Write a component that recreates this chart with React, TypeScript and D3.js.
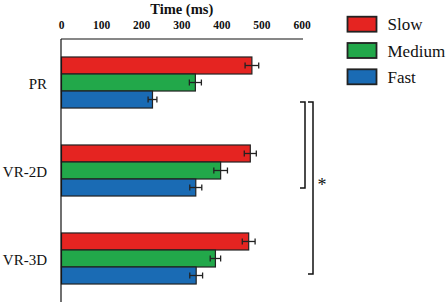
import React from "react";
import * as d3 from "d3";

const categories = ["PR", "VR-2D", "VR-3D"];
const seriesNames = ["Slow", "Medium", "Fast"];
const slowValues = [475, 471, 467];
const mediumValues = [334, 397, 384];
const fastValues = [227, 335, 336];
const slowErrors = [17, 15, 16];
const mediumErrors = [15, 17, 13];
const fastErrors = [11, 15, 16];
const xTicks = [0, 100, 200, 300, 400, 500, 600];
const colors = ["#e52421", "#22a84a", "#1a6bb4"];

const W = 447;
const H = 305;
const FONT = "Liberation Serif";
const tStyle: React.CSSProperties = { fontFamily: FONT };

export default function App() {
  const values = [slowValues, mediumValues, fastValues];
  const errors = [slowErrors, mediumErrors, fastErrors];

  const x = d3.scaleLinear().domain([0, 600]).range([61.5, 302]);
  const y0 = d3
    .scaleBand<string>()
    .domain(categories)
    .range([39, 302])
    .paddingInner(0.42)
    .paddingOuter(0.2045);
  const y1 = d3
    .scaleBand<string>()
    .domain(seriesNames)
    .range([0, y0.bandwidth()])
    .padding(0);

  const axisY = 39;
  const axisX = 61;

  return (
    <svg
      width={W}
      height={H}
      style={{ position: "absolute", left: 0, top: 0, background: "#fff" }}
    >
      <rect x={0} y={0} width={W} height={H} fill="#fff" />
      {/* title */}
      <text
        style={tStyle}
        x={(x(0) + x(600)) / 2}
        y={14}
        textAnchor="middle"
        fontSize={14.5}
        fontWeight="bold"
        fill="#111"
      >
        Time (ms)
      </text>
      {/* tick labels */}
      {xTicks.map((t) => (
        <text
          key={t}
          style={tStyle}
          x={x(t)}
          y={28.5}
          textAnchor="middle"
          fontSize={11.5}
          fontWeight="bold"
          fill="#111"
        >
          {t}
        </text>
      ))}
      {/* bars */}
      {categories.map((c, ci) => (
        <g key={c} transform={`translate(0,${y0(c)})`}>
          {seriesNames.map((s, si) => {
            const v = values[si][ci];
            const e = errors[si][ci];
            const by = y1(s)!;
            const bh = y1.bandwidth();
            const cy = by + bh / 2;
            return (
              <g key={s}>
                <rect
                  x={x(0)}
                  y={by}
                  width={x(v) - x(0)}
                  height={bh}
                  fill={colors[si]}
                  stroke="#222"
                  strokeWidth={1.2}
                />
                <line x1={x(v - e)} x2={x(v + e)} y1={cy} y2={cy} stroke="#222" strokeWidth={1.3} />
                <line x1={x(v - e)} x2={x(v - e)} y1={cy - 3} y2={cy + 3} stroke="#222" strokeWidth={1.3} />
                <line x1={x(v + e)} x2={x(v + e)} y1={cy - 3} y2={cy + 3} stroke="#222" strokeWidth={1.3} />
              </g>
            );
          })}
          <text
            style={tStyle}
            x={47}
            y={y0.bandwidth() / 2 + 6.5}
            textAnchor="end"
            fontSize={15}
            fill="#111"
          >
            {c}
          </text>
        </g>
      ))}
      {/* axes lines */}
      <line x1={axisX} x2={303} y1={axisY} y2={axisY} stroke="#111" strokeWidth={1.2} />
      <line x1={axisX} x2={axisX} y1={axisY} y2={302} stroke="#111" strokeWidth={1.2} />
      {/* significance brackets */}
      <path d="M300,102 H305 V188 H300" fill="none" stroke="#111" strokeWidth={1.5} />
      <path d="M308,102 H313 V274 H308" fill="none" stroke="#111" strokeWidth={1.5} />
      <text style={tStyle} x={322} y={191} textAnchor="middle" fontSize={18} fill="#111">
        *
      </text>
      {/* legend */}
      {seriesNames.map((s, i) => (
        <g key={s} transform={`translate(347.5,${16.7 + i * 26.3})`}>
          <rect x={0} y={0} width={29} height={15} fill={colors[i]} stroke="#222" strokeWidth={1.8} />
          <text style={tStyle} x={40} y={13.5} fontSize={17} fill="#111">
            {s}
          </text>
        </g>
      ))}
    </svg>
  );
}
